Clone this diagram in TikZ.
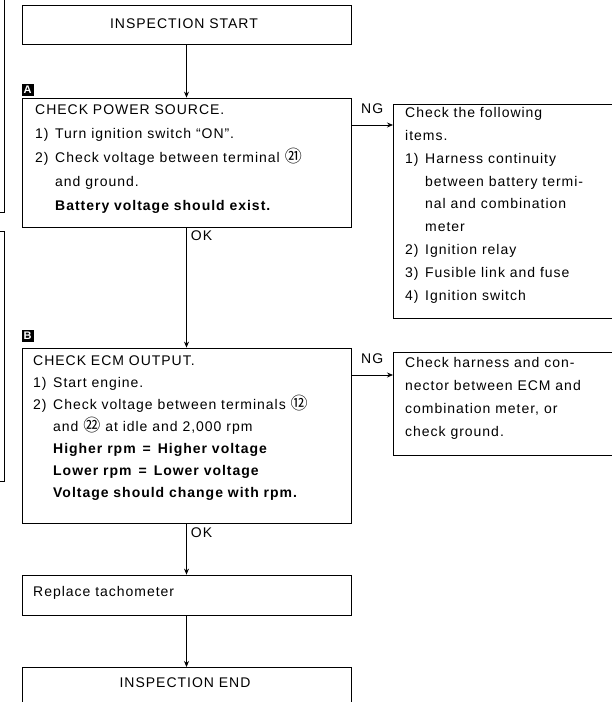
\documentclass[tikz,border=0pt]{standalone}
\usepackage{fontspec}
\setmainfont{Liberation Sans}[LetterSpace=7]
\newfontfamily\cjk{Noto Sans CJK SC}
\usetikzlibrary{arrows.meta,calc}
\tikzset{
  box/.style={draw, line width=0.8pt, rectangle, inner sep=0pt},
  txt/.style={anchor=north west, inner sep=0pt, align=left},
  arr/.style={draw, line width=0.8pt, -{Stealth[length=6pt,width=5pt]}},
  lbl/.style={inner sep=0pt, font=\fontsize{14}{16}\selectfont},
  badge/.style={draw=black, fill=black, text=white, inner sep=0pt, minimum size=11.5pt, font=\fontsize{11}{11}\selectfont\bfseries},
  edge/.style={draw, line width=0.8pt}
}
\newcommand{\nm}[1]{\makebox[20pt][l]{#1}}
\newcommand{\cn}[1]{{\cjk\addfontfeatures{LetterSpace=0}\fontsize{17}{17}\selectfont #1}}
\begin{document}
\begin{tikzpicture}[x=1pt,y=1pt]
\useasboundingbox (0,0) rectangle (612,-702);
% left-edge partial frames
\coordinate (l1a) at (4.5,0);
\coordinate (l1b) at (4.5,-212);
\coordinate (l1c) at (0,-212);
\draw[edge] (l1a) -- (l1b) -- (l1c);
\coordinate (l2a) at (0,-231);
\coordinate (l2b) at (4.5,-231);
\coordinate (l2c) at (4.5,-481);
\coordinate (l2d) at (0,-481);
\draw[edge] (l2a) -- (l2b) -- (l2c) -- (l2d);

% main boxes
\node[box, minimum width=329pt, minimum height=39pt] (start) at (186.5,-24.5) {};
\node[lbl] (starttxt) at (184,-23.5) {INSPECTION START};

\node[badge] (badgeA) at (27.5,-89.5) {A};
\node[box, minimum width=329pt, minimum height=129pt] (boxA) at (186.5,-162.5) {};
\node[txt, font=\fontsize{14}{24}\selectfont] (txtA) at (35,-105) {%
CHECK POWER SOURCE.\\
\nm{1)}Turn ignition switch ``ON''.\\
\nm{2)}Check voltage between terminal \cn{㉑}\\
\nm{}and ground.\\
\nm{}\textbf{Battery voltage should exist.}};

\node[box, minimum width=240pt, minimum height=214pt, anchor=north west] (chkA) at (393,-104) {};
\node[txt, font=\fontsize{14}{22.9}\selectfont] (txtchkA) at (405,-107) {%
Check the following\\
items.\\
\nm{1)}Harness continuity\\
\nm{}between battery termi-\\
\nm{}nal and combination\\
\nm{}meter\\
\nm{2)}Ignition relay\\
\nm{3)}Fusible link and fuse\\
\nm{4)}Ignition switch};

\node[badge] (badgeB) at (27.5,-335.5) {B};
\node[box, minimum width=329pt, minimum height=175pt] (boxB) at (186.5,-435.5) {};
\node[txt, font=\fontsize{14}{22}\selectfont] (txtB) at (33,-355.5) {%
CHECK ECM OUTPUT.\\
\nm{1)}Start engine.\\
\nm{2)}Check voltage between terminals \cn{⑫}\\
\nm{}and \cn{㉒} at idle and 2,000 rpm\\
\nm{}\textbf{Higher rpm\enspace=\enspace Higher voltage}\\
\nm{}\textbf{Lower rpm\enspace=\enspace Lower voltage}\\
\nm{}\textbf{Voltage should change with rpm.}};

\node[box, minimum width=240pt, minimum height=103pt, anchor=north west] (chkB) at (393,-352) {};
\node[txt, font=\fontsize{14}{23}\selectfont] (txtchkB) at (405,-357.5) {%
Check harness and con-\\
nector between ECM and\\
combination meter, or\\
check ground.};

\node[box, minimum width=329pt, minimum height=40pt] (repl) at (186.5,-595) {};
\node[lbl, anchor=west] (repltxt) at (33,-593) {Replace tachometer};

\node[box, minimum width=329pt, minimum height=44pt, anchor=north] (endb) at (186.5,-667) {};
\node[lbl] (endtxt) at (185,-683) {INSPECTION END};

% connectors
\draw[arr] (start.south) -- (boxA.north);
\draw[arr] (boxA.south) -- node[lbl, anchor=north west, pos=0.025, xshift=4pt] (okA) {OK} (boxB.north);
\draw[arr] (boxB.south) -- node[lbl, anchor=north west, pos=0.07, xshift=4pt] (okB) {OK} (repl.north);
\draw[arr] (repl.south) -- (endb.north);
\draw[arr] (boxA.east |- 0,-125) -- node[lbl, above, yshift=11pt] (ngA) {NG} (chkA.west |- 0,-125);
\draw[arr] (boxB.east |- 0,-375) -- node[lbl, above, yshift=11pt] (ngB) {NG} (chkB.west |- 0,-375);
\end{tikzpicture}
\end{document}
